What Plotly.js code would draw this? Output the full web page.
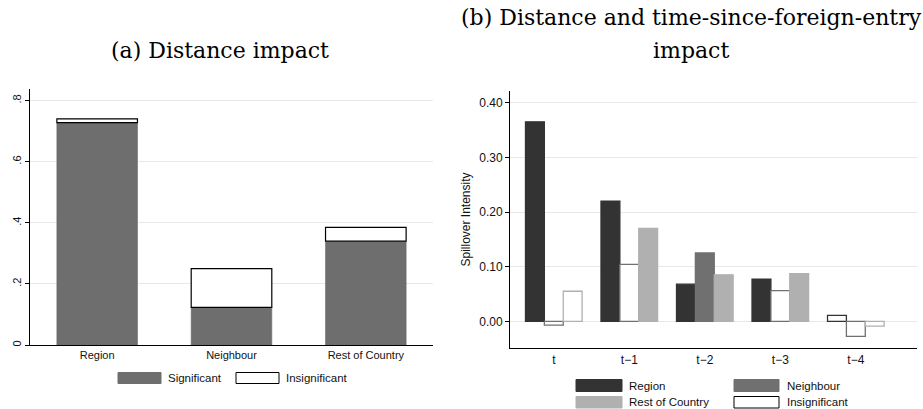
<!DOCTYPE html>
<html>
<head>
<meta charset="utf-8">
<script src="https://cdn.plot.ly/plotly-3.0.1.min.js"></script>
<style>html,body{margin:0;padding:0;background:#fff;}#chart{width:923px;height:409px;}</style>
</head>
<body>
<div id="chart"></div>
<script>
// ---- Panel (a) data ----
const distCategories = ["Region", "Neighbour", "Rest of Country"];
const distSignificant = [0.728, 0.123, 0.340];
const distInsignificant = [0.012, 0.127, 0.045];

// ---- Panel (b) data ----
const lagCategories = ["t", "t\u22121", "t\u22122", "t\u22123", "t\u22124"];
const regionVals = [0.365, 0.220, 0.068, 0.077, 0.011];
const regionSig = [1, 1, 1, 1, 0];
const neighbourVals = [-0.007, 0.104, 0.125, 0.056, -0.0275];
const neighbourSig = [0, 0, 1, 0, 0];
const restVals = [0.055, 0.170, 0.085, 0.087, -0.009];
const restSig = [0, 1, 1, 1, 0];

const W = 923, H = 409;
const px = x => x / W;
const py = y => 1 - y / H;

const SANS = "Liberation Sans, Arial, Helvetica, sans-serif";
const SERIF = "DejaVu Serif, serif";
const C_SIG = "#6e6e6e";
const C_REGION = "#333333";
const C_NEIGH = "#707070";
const C_REST = "#b0b0b0";

const traces = [
  {
    type: "bar", x: distCategories, y: distSignificant, xaxis: "x", yaxis: "y",
    width: 0.6, marker: {color: C_SIG, line: {color: "#6a6a6a", width: 0.6}},
    showlegend: false, name: "Significant"
  },
  {
    type: "bar", x: distCategories, y: distInsignificant, base: distSignificant,
    xaxis: "x", yaxis: "y", width: 0.6,
    marker: {color: "#ffffff", line: {color: "#000000", width: 1.2}},
    showlegend: false, name: "Insignificant"
  }
];

function lagTrace(vals, sig, color, offset, name) {
  return {
    type: "bar", x: lagCategories, y: vals, xaxis: "x2", yaxis: "y2",
    width: 0.25, offset: offset,
    marker: {
      color: sig.map(s => s ? color : "#ffffff"),
      line: {color: color, width: 1.3}
    },
    showlegend: false, name: name
  };
}
traces.push(lagTrace(regionVals, regionSig, C_REGION, -0.375, "Region"));
traces.push(lagTrace(neighbourVals, neighbourSig, C_NEIGH, -0.125, "Neighbour"));
traces.push(lagTrace(restVals, restSig, C_REST, 0.125, "Rest of Country"));

const shapes = [];
const annotations = [];
function legendItem(x0, x1, y0, y1, fill, border, label, tx) {
  shapes.push({type: "rect", xref: "paper", yref: "paper",
    x0: px(x0), x1: px(x1), y0: py(y1), y1: py(y0),
    fillcolor: fill, line: {color: border, width: 1}});
  annotations.push({xref: "paper", yref: "paper", x: px(tx), y: py((y0 + y1) / 2),
    xanchor: "left", yanchor: "middle", text: label, showarrow: false,
    font: {family: SANS, size: 11.5, color: "#111"}});
}
legendItem(118, 161, 372.5, 383.5, C_SIG, C_SIG, "Significant", 166);
legendItem(236, 279, 372.5, 383.5, "#ffffff", "#000000", "Insignificant", 284);

legendItem(576, 622, 379.5, 391.5, C_REGION, C_REGION, "Region", 627);
legendItem(734, 779, 379.5, 391.5, C_NEIGH, C_NEIGH, "Neighbour", 785);
legendItem(576, 622, 396.5, 408, C_REST, C_REST, "Rest of Country", 627);
legendItem(734, 779, 396.5, 408, "#ffffff", "#000000", "Insignificant", 785);

function title(text, x, y) {
  annotations.push({xref: "paper", yref: "paper", x: px(x), y: py(y),
    xanchor: "center", yanchor: "middle", showarrow: false,
    text: text, font: {family: SERIF, size: 22, color: "#000"}});
}
title("(a) Distance impact", 220, 51);
title("(b) Distance and time-since-foreign-entry", 691, 18);
title("impact", 691, 50);

const layout = {
  width: W, height: H,
  margin: {l: 0, r: 0, t: 0, b: 0},
  paper_bgcolor: "#ffffff", plot_bgcolor: "#ffffff",
  barmode: "overlay",
  showlegend: false,
  xaxis: {
    domain: [px(30), px(433)], anchor: "y", type: "category",
    range: [-0.5, 2.5], showline: true, linecolor: "#000", linewidth: 1,
    ticks: "", showgrid: false, zeroline: false,
    tickfont: {family: SANS, size: 11, color: "#111"}
  },
  yaxis: {
    domain: [py(345), py(89)], anchor: "x",
    range: [0, 0.838], showline: true, linecolor: "#000", linewidth: 1,
    ticks: "outside", ticklen: 4, tickcolor: "#000",
    tickvals: [0, 0.2, 0.4, 0.6, 0.8], ticktext: ["0", ".2", ".4", ".6", ".8"],
    tickangle: -90, showgrid: true, gridcolor: "#e8e8e8", gridwidth: 1, zeroline: false,
    tickfont: {family: SANS, size: 11, color: "#111"}
  },
  xaxis2: {
    domain: [px(510), px(917)], anchor: "y2", type: "category",
    range: [-0.58, 4.81], showline: true, linecolor: "#000", linewidth: 1,
    ticks: "", showgrid: false, zeroline: false,
    tickfont: {family: SANS, size: 12, color: "#111"}
  },
  yaxis2: {
    domain: [py(348.3), py(90.7)], anchor: "x2",
    range: [-0.0494, 0.422], showline: true, linecolor: "#000", linewidth: 1,
    ticks: "outside", ticklen: 4, tickcolor: "#000",
    tickvals: [0, 0.1, 0.2, 0.3, 0.4], tickformat: ".2f",
    showgrid: true, gridcolor: "#e8e8e8", gridwidth: 1, zeroline: false,
    tickfont: {family: SANS, size: 12, color: "#111"},
    title: {text: "Spillover Intensity", font: {family: SANS, size: 12, color: "#111"}, standoff: 6}
  },
  shapes: shapes,
  annotations: annotations
};

Plotly.newPlot("chart", traces, layout, {displayModeBar: false, staticPlot: true});
</script>
</body>
</html>
